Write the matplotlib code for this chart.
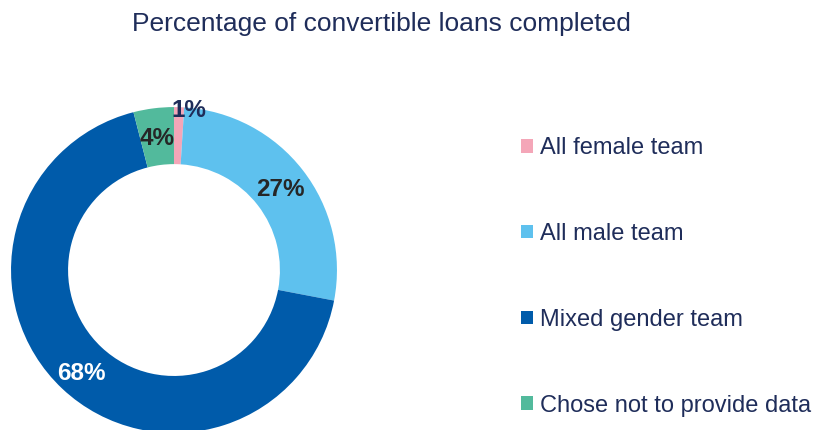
import matplotlib
matplotlib.use("Agg")
import matplotlib.pyplot as plt
import numpy as np

# share of convertible loans completed, by team gender
LABELS = ["All female team", "All male team", "Mixed gender team", "Chose not to provide data"]
SHARES = [1, 27, 68, 4]

COLORS = ["#F4A6B8", "#5EC1EE", "#005BAA", "#52BA9C"]
INK = "#1F2D5A"
plt.rcParams["font.family"] = ["Liberation Sans", "DejaVu Sans"]

fig = plt.figure(figsize=(8.14, 4.30), dpi=100)
fig.text(0.469, 0.945, "Percentage of convertible loans completed",
         ha="center", va="center", fontsize=19, color=INK)

# ring centred near the left edge, slightly cut off at the bottom
ax = fig.add_axes([0.0135, -0.007, 0.4005, 0.758])
wedges, _ = ax.pie(SHARES, colors=COLORS, startangle=90, counterclock=False,
                   radius=1.0, wedgeprops=dict(width=0.35, edgecolor="none"))
ax.set_xlim(-1, 1)
ax.set_ylim(-1, 1)
ax.set_aspect("equal")
ax.axis("off")

total = sum(SHARES)
for w, v in zip(wedges, SHARES):
    mid = np.deg2rad((w.theta1 + w.theta2) / 2)
    r, col, dx, dy = 0.83, "#262626", 0.0, -0.015
    if v == 68:
        col = "white"
        dy = -0.03
    if v == 1:
        r, col, dx, dy = 1.0, INK, 0.06, -0.02
    ax.text(r * np.cos(mid) + dx, r * np.sin(mid) + dy, f"{v / total * 100:.0f}%",
            ha="center", va="center", fontsize=17.5, fontweight="bold",
            color=col, clip_on=False)

leg = fig.legend(wedges, LABELS, loc="center left",
                 bbox_to_anchor=(521 / 814, 0.356), frameon=False,
                 fontsize=17, labelcolor=INK, borderpad=0, borderaxespad=0,
                 handlelength=0.5, handleheight=0.5, handletextpad=0.3,
                 labelspacing=2.7)

fig.savefig("out.png", dpi=100)
